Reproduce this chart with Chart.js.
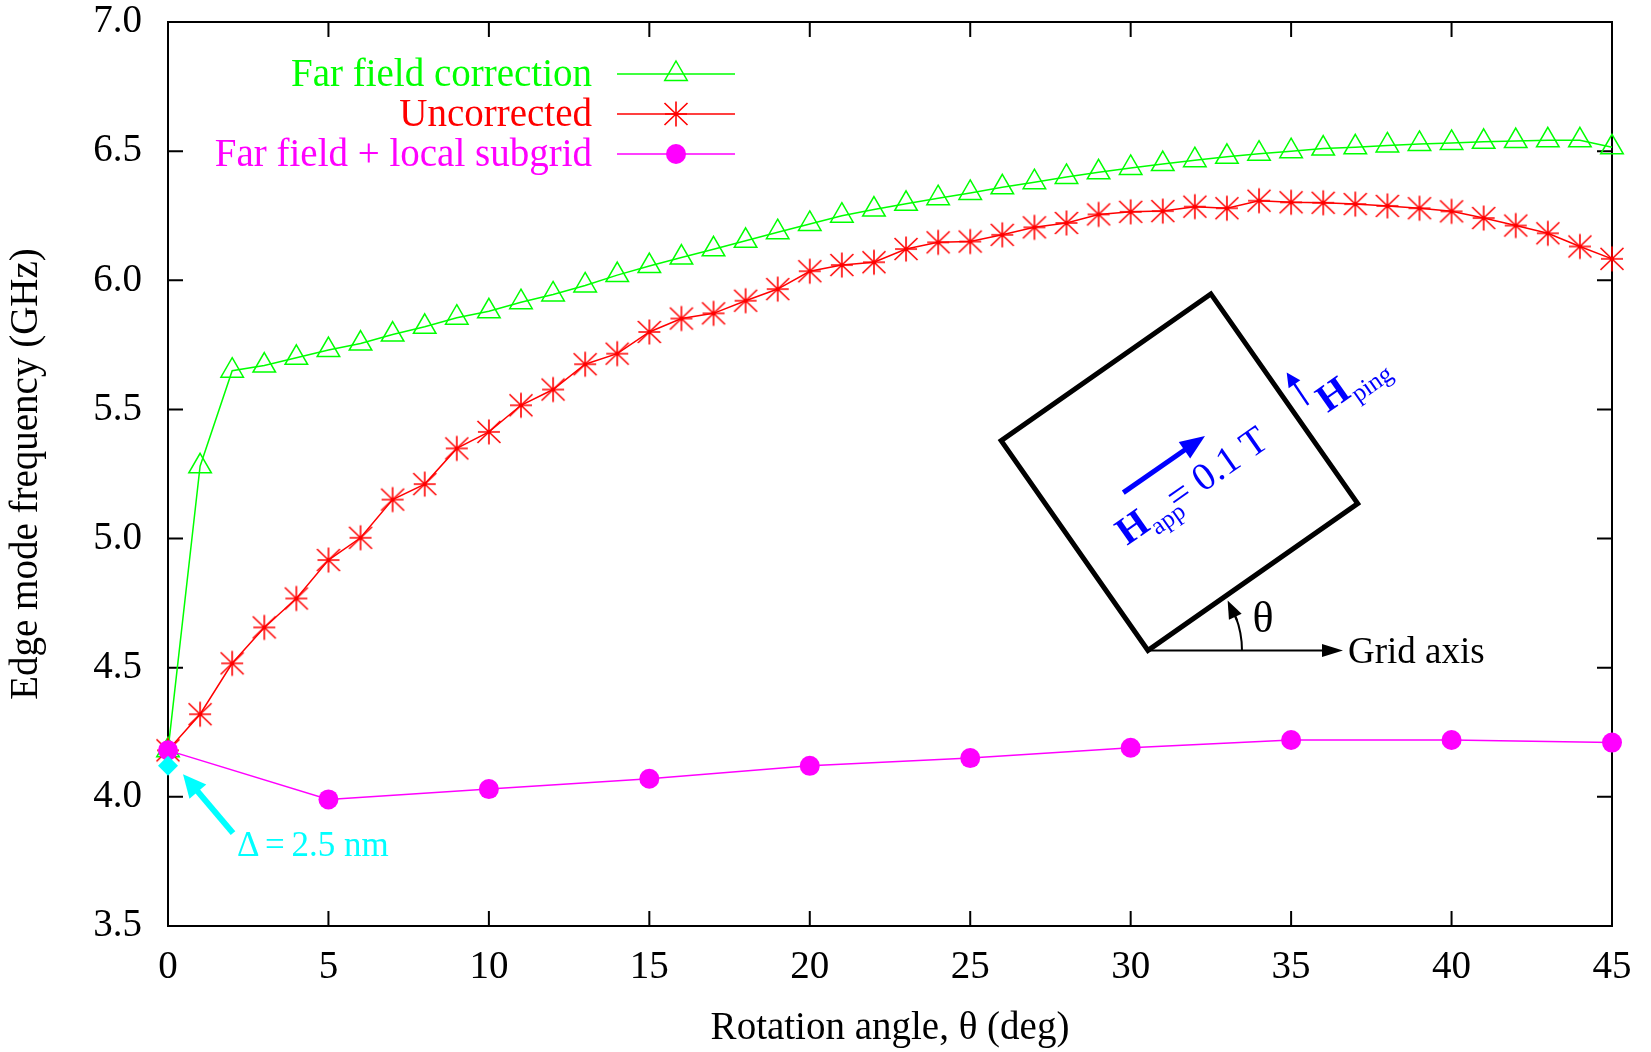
<!DOCTYPE html>
<html>
<head>
<meta charset="utf-8">
<script src="https://cdn.jsdelivr.net/npm/chart.js@4.4.1/dist/chart.umd.min.js"></script>
<style>
html,body{margin:0;padding:0;background:#fff;}
#wrap{width:1651px;height:1052px;}
</style>
</head>
<body>
<div id="wrap"><canvas id="c" width="1651" height="1052"></canvas></div>
<script>
// ---------- data ----------
const theta = [0,1,2,3,4,5,6,7,8,9,10,11,12,13,14,15,16,17,18,19,20,21,22,23,24,25,26,27,28,29,30,31,32,33,34,35,36,37,38,39,40,41,42,43,44,45];
const farField = [4.18,5.28,5.65,5.67,5.70,5.73,5.755,5.79,5.82,5.855,5.88,5.915,5.945,5.98,6.02,6.055,6.088,6.12,6.153,6.186,6.218,6.25,6.274,6.296,6.318,6.338,6.36,6.38,6.40,6.418,6.435,6.45,6.465,6.478,6.49,6.50,6.51,6.515,6.522,6.528,6.532,6.536,6.539,6.542,6.542,6.515];
const uncorrected = [4.18,4.32,4.517,4.656,4.768,4.917,5.003,5.151,5.211,5.349,5.413,5.516,5.577,5.675,5.716,5.80,5.852,5.872,5.921,5.966,6.035,6.059,6.07,6.121,6.147,6.15,6.176,6.205,6.222,6.255,6.265,6.268,6.285,6.279,6.308,6.302,6.300,6.295,6.288,6.279,6.267,6.241,6.212,6.182,6.131,6.083];
const subgridTheta = [0,5,10,15,20,25,30,35,40,45];
const subgrid = [4.18,3.99,4.03,4.07,4.12,4.15,4.19,4.22,4.22,4.21];
const fineTheta = [0];
const fine = [4.12];
const seriesNames = ['Far field correction','Uncorrected','Far field + local subgrid'];
const xTitle = 'Rotation angle, \u03B8 (deg)';
const yTitle = 'Edge mode frequency (GHz)';
const deltaLabel = ['\u0394','=','2.5','nm'];
// inset anchor (bottom corner of rotated square) in data units
const insetAnchor = {theta: 30.54, ghz: 4.567};

// ---------- style ----------
const FONT = "'Liberation Serif','Times New Roman',serif";
Chart.defaults.font.family = FONT;
Chart.defaults.color = '#000';
const GREEN = '#00ff00', RED = '#ff0000', MAGENTA = '#ff00ff', CYAN = '#00ffff', BLUE = '#0000ff';

function makeStar(color){
  const c = document.createElement('canvas'); c.width = 28; c.height = 28;
  const g = c.getContext('2d'); g.strokeStyle = color; g.lineWidth = 1.6;
  g.beginPath();
  g.moveTo(14,1.5); g.lineTo(14,26.5);
  g.moveTo(2.5,3); g.lineTo(25.5,25);
  g.moveTo(25.5,3); g.lineTo(2.5,25);
  g.moveTo(3,14); g.lineTo(25,14);
  g.stroke();
  return c;
}
const starImg = makeStar(RED);

const toXY = (xs, ys) => xs.map((v,i)=>({x:v, y:ys[i]}));

function arrow(ctx,x1,y1,x2,y2,hl,hw,lw,color){
  const dx=x2-x1, dy=y2-y1, L=Math.hypot(dx,dy), ux=dx/L, uy=dy/L;
  const bx=x2-ux*hl, by=y2-uy*hl;
  ctx.save();
  ctx.strokeStyle=color; ctx.fillStyle=color; ctx.lineWidth=lw; ctx.lineCap='butt';
  ctx.beginPath(); ctx.moveTo(x1,y1); ctx.lineTo(bx+ux*2,by+uy*2); ctx.stroke();
  ctx.beginPath(); ctx.moveTo(x2,y2); ctx.lineTo(bx-uy*hw,by+ux*hw); ctx.lineTo(bx+uy*hw,by-ux*hw); ctx.closePath(); ctx.fill();
  ctx.restore();
}

// frame + inward ticks
const framePlugin = {
  id:'frame',
  beforeDatasetsDraw(chart){
    const {ctx, chartArea:a, scales:{x,y}} = chart;
    ctx.save();
    ctx.strokeStyle='#000'; ctx.lineWidth=2;
    ctx.beginPath();
    x.ticks.forEach(t=>{const p=x.getPixelForValue(t.value);
      ctx.moveTo(p,a.bottom); ctx.lineTo(p,a.bottom-15);
      ctx.moveTo(p,a.top); ctx.lineTo(p,a.top+15);});
    y.ticks.forEach(t=>{const p=y.getPixelForValue(t.value);
      ctx.moveTo(a.left,p); ctx.lineTo(a.left+15,p);
      ctx.moveTo(a.right,p); ctx.lineTo(a.right-15,p);});
    ctx.stroke();
    ctx.strokeRect(a.left,a.top,a.right-a.left,a.bottom-a.top);
    ctx.restore();
  }
};

// custom legend (gnuplot style: right-aligned text, sample on the right)
const legendPlugin = {
  id:'gpLegend',
  afterDraw(chart){
    const ctx = chart.ctx;
    const rows = [74,114,154];
    const textRight = 592, l1 = 617, l2 = 735, mx = 676;
    ctx.save();
    ctx.font = '39px ' + FONT; ctx.textAlign='right'; ctx.textBaseline='middle';
    [0,1,2].forEach(i=>{
      const ds = chart.data.datasets[i], yy = rows[i];
      ctx.fillStyle = ds.borderColor; ctx.fillText(ds.label, textRight, yy+2);
      ctx.strokeStyle = ds.borderColor; ctx.lineWidth = 1.5;
      ctx.beginPath(); ctx.moveTo(l1,yy); ctx.lineTo(l2,yy); ctx.stroke();
      if (ds.pointStyle === 'triangle'){
        const r = ds.pointRadius;
        ctx.beginPath(); ctx.moveTo(mx, yy-r); ctx.lineTo(mx+r*0.866, yy+r*0.5); ctx.lineTo(mx-r*0.866, yy+r*0.5); ctx.closePath(); ctx.stroke();
      } else if (ds.pointStyle === 'circle'){
        ctx.fillStyle = ds.backgroundColor; ctx.beginPath(); ctx.arc(mx,yy,ds.pointRadius,0,Math.PI*2); ctx.fill();
      } else {
        ctx.drawImage(ds.pointStyle, mx-ds.pointStyle.width/2, yy-ds.pointStyle.height/2);
      }
    });
    ctx.restore();
  }
};

// inset diagram and annotations
const insetPlugin = {
  id:'inset',
  afterDatasetsDraw(chart){
    const {ctx, scales:{x,y}} = chart;
    const ox = x.getPixelForValue(insetAnchor.theta), oy = y.getPixelForValue(insetAnchor.ghz);
    const ang = 35*Math.PI/180, side = 256;
    const u=[Math.cos(ang), -Math.sin(ang)], w=[-Math.sin(ang), -Math.cos(ang)];
    ctx.save();
    ctx.lineWidth=5; ctx.strokeStyle='#000'; ctx.lineJoin='miter';
    ctx.beginPath();
    ctx.moveTo(ox,oy);
    ctx.lineTo(ox+side*u[0], oy+side*u[1]);
    ctx.lineTo(ox+side*(u[0]+w[0]), oy+side*(u[1]+w[1]));
    ctx.lineTo(ox+side*w[0], oy+side*w[1]);
    ctx.closePath(); ctx.stroke();
    // grid axis
    arrow(ctx, ox, oy, ox+195, oy, 21, 6.5, 2, '#000');
    ctx.fillStyle='#000'; ctx.font='37px '+FONT; ctx.textAlign='left'; ctx.textBaseline='alphabetic';
    ctx.fillText('Grid axis', ox+200, oy+12.8);
    // theta arc
    const r=94, a1=0.56, hl=18, a0=a1-hl/r;
    ctx.lineWidth=2; ctx.strokeStyle='#000';
    ctx.beginPath(); ctx.arc(ox,oy,r,0,-a0,true); ctx.stroke();
    arrow(ctx, ox+r*Math.cos(a0-0.05), oy-r*Math.sin(a0-0.05), ox+r*Math.cos(a1), oy-r*Math.sin(a1), hl, 7, 2, '#000');
    ctx.textAlign='center'; ctx.textBaseline='middle';
    ctx.font='44px '+FONT;
    ctx.fillText('\u03B8', ox+115, oy-30);
    // H_app arrow + text
    arrow(ctx, ox-24.7, oy-157.8, ox+57, oy-214.5, 25, 10, 5, BLUE);
    ctx.save();
    ctx.translate(ox-21, oy-104.5); ctx.rotate(-ang);
    ctx.fillStyle=BLUE; ctx.textAlign='left'; ctx.textBaseline='alphabetic';
    ctx.font='bold 39px '+FONT; ctx.fillText('H',0,0);
    ctx.font='25px '+FONT; ctx.fillText('app',31,9);
    ctx.font='39px '+FONT; ctx.fillText('= 0.1 T',61,0);
    ctx.restore();
    // H_ping arrow + text
    arrow(ctx, ox+160.3, oy-245.5, ox+138.7, oy-277.8, 14, 7, 2.5, BLUE);
    ctx.save();
    ctx.translate(ox+179.6, oy-237.2); ctx.rotate(-ang);
    ctx.fillStyle=BLUE; ctx.textAlign='left'; ctx.textBaseline='alphabetic';
    ctx.font='bold 39px '+FONT; ctx.fillText('H',0,0);
    ctx.font='25px '+FONT; ctx.fillText('ping',31,9);
    ctx.restore();
    // delta annotation
    const dx = x.getPixelForValue(fineTheta[0]), dy = y.getPixelForValue(fine[0]);
    arrow(ctx, dx+65, dy+67.3, dx+15, dy+8.3, 23, 11, 6, CYAN);
    ctx.fillStyle=CYAN; ctx.font='35px '+FONT; ctx.textAlign='left'; ctx.textBaseline='alphabetic';
    const offs=[69,97,123.5,176];
    deltaLabel.forEach((s,i)=>ctx.fillText(s, dx+offs[i], dy+90));
    ctx.restore();
  }
};

new Chart(document.getElementById('c'), {
  type:'scatter',
  data:{
    datasets:[
      {label:seriesNames[0], data:toXY(theta,farField), showLine:true, borderColor:GREEN, backgroundColor:'rgba(0,0,0,0)',
       borderWidth:1.5, pointStyle:'triangle', pointRadius:13, pointBorderWidth:1.5, pointBorderColor:GREEN, pointBackgroundColor:'rgba(0,0,0,0)', tension:0, clip:false, order:3},
      {label:seriesNames[1], data:toXY(theta,uncorrected), showLine:true, borderColor:RED, backgroundColor:RED,
       borderWidth:1.5, pointStyle:starImg, pointRadius:13, tension:0, clip:false, order:2},
      {label:seriesNames[2], data:toXY(subgridTheta,subgrid), showLine:true, borderColor:MAGENTA, backgroundColor:MAGENTA,
       borderWidth:1.5, pointStyle:'circle', pointRadius:10, pointBorderWidth:0, pointBackgroundColor:MAGENTA, tension:0, clip:false, order:1},
      {label:'fine', data:toXY(fineTheta,fine), showLine:false, borderColor:CYAN, backgroundColor:CYAN,
       pointStyle:'rectRot', pointRadius:10, pointBorderWidth:0, pointBackgroundColor:CYAN, clip:false, order:0}
    ]
  },
  options:{
    responsive:false, animation:false, events:[],
    layout:{padding:{left:0,right:39,top:22,bottom:0}},
    plugins:{legend:{display:false}, tooltip:{enabled:false}},
    scales:{
      x:{type:'linear', min:0, max:45,
         afterFit(s){ s.height = 126; s.paddingLeft = 0; s.paddingRight = 0; },
         grid:{display:false, drawTicks:false}, border:{display:false},
         ticks:{stepSize:5, padding:22, color:'#000', maxRotation:0, autoSkip:false, font:{size:39, lineHeight:1}},
         title:{display:true, text:xTitle, color:'#000', font:{size:39, lineHeight:1}, padding:{top:0,bottom:3.5}}},
      y:{type:'linear', min:3.5, max:7.0,
         afterFit(s){ s.width = 168; s.paddingTop = 0; s.paddingBottom = 0; },
         grid:{display:false, drawTicks:false}, border:{display:false},
         ticks:{stepSize:0.5, padding:26, color:'#000', font:{size:39, lineHeight:1}, callback:v=>Number(v).toFixed(1)},
         title:{display:true, text:yTitle, color:'#000', font:{size:39, lineHeight:1}, padding:{top:7.5,bottom:0}}}
    }
  },
  plugins:[framePlugin, insetPlugin, legendPlugin]
});
</script>
</body>
</html>
